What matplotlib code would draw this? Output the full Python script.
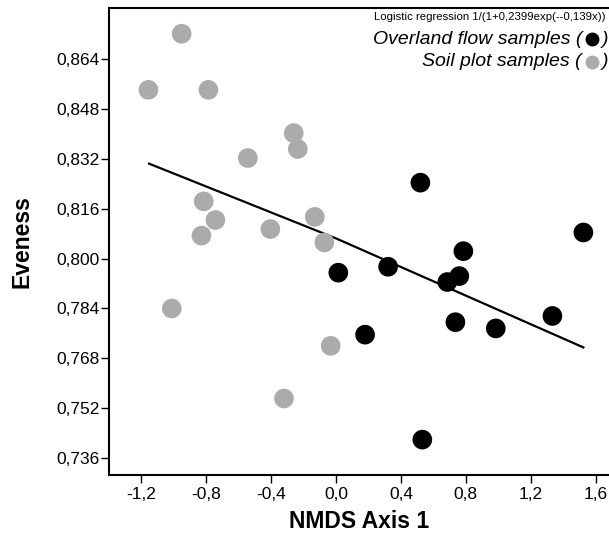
import matplotlib
matplotlib.use("Agg")
import matplotlib.pyplot as plt

# %% data
soil_x = [-0.952, -1.157, -0.787, -0.261, -0.236, -0.544, -0.816, -0.744, -0.830,
          -0.405, -0.131, -0.072, -1.013, -0.033, -0.321]
soil_y = [0.8722, 0.8542, 0.8542, 0.8403, 0.8352, 0.8323, 0.8184, 0.8124, 0.8074,
          0.8095, 0.8134, 0.8052, 0.7840, 0.7720, 0.7551]

flow_x = [0.520, 1.525, 0.785, 0.014, 0.321, 0.760, 0.686, 0.736, 0.985, 1.334,
          0.179, 0.532]
flow_y = [0.8244, 0.8084, 0.8024, 0.7955, 0.7974, 0.7944, 0.7925, 0.7796, 0.7776,
          0.7816, 0.7756, 0.7419]

# fitted curve, read at a few points
fit_x = [-1.153, 0.0, 1.525]
fit_y = [0.8305, 0.8065, 0.7715]

xticks = [-1.2, -0.8, -0.4, 0.0, 0.4, 0.8, 1.2, 1.6]
yticks = [0.736, 0.752, 0.768, 0.784, 0.800, 0.816, 0.832, 0.848, 0.864]

# %% plot
plt.rcParams["font.family"] = ["Liberation Sans", "DejaVu Sans"]

W, H = 609, 537
fig = plt.figure(figsize=(W / 100, H / 100), dpi=100)
ax = fig.add_axes([109 / W, 1 - 475 / H, 1 - 109 / W, (475 - 8) / H])

ax.plot(fit_x, fit_y, color="black", lw=1.6, zorder=2)
ax.scatter(soil_x, soil_y, s=200, color="#ababab", edgecolors="none", zorder=3)
ax.scatter(flow_x, flow_y, s=200, color="black", edgecolors="none", zorder=3)

ax.set_xlim(-1.40, 1.683)
ax.set_ylim(0.73054, 0.88047)
ax.set_xticks(xticks)
ax.set_yticks(yticks)
ax.set_xticklabels([f"{v:.1f}".replace(".", ",") for v in xticks])
ax.set_yticklabels([f"{v:.3f}".replace(".", ",") for v in yticks])
ax.tick_params(direction="out", length=5.5, width=1, labelsize=12.5)
ax.tick_params(axis="y", pad=1.5)
ax.tick_params(axis="x", pad=3)

ax.spines["right"].set_visible(False)
for s in ["left", "bottom", "top"]:
    ax.spines[s].set_linewidth(1.5)

ax.set_xlabel("NMDS Axis 1", fontsize=16.5, fontweight="bold", labelpad=6)
ax.set_ylabel("Eveness", fontsize=16.5, fontweight="bold", labelpad=16)

# legend-like texts at the top right
fig.text(606 / W, 1 - 17 / H, "Logistic regression 1/(1+0,2399exp(--0,139x))",
         ha="right", va="center", fontsize=8.2)
for yy, label, col in [(39, "Overland flow samples (", "black"),
                       (62, "Soil plot samples (", "#ababab")]:
    fig.text(582 / W, 1 - yy / H, label, ha="right", va="center",
             fontsize=14, style="italic")
    fig.text(608 / W, 1 - yy / H, ")", ha="right", va="center",
             fontsize=14, style="italic")
    fig.add_artist(plt.Line2D([592 / W], [1 - yy / H], marker="o", markersize=10,
                              color=col, markeredgecolor="none",
                              transform=fig.transFigure))

fig.savefig("out.png", dpi=100)
